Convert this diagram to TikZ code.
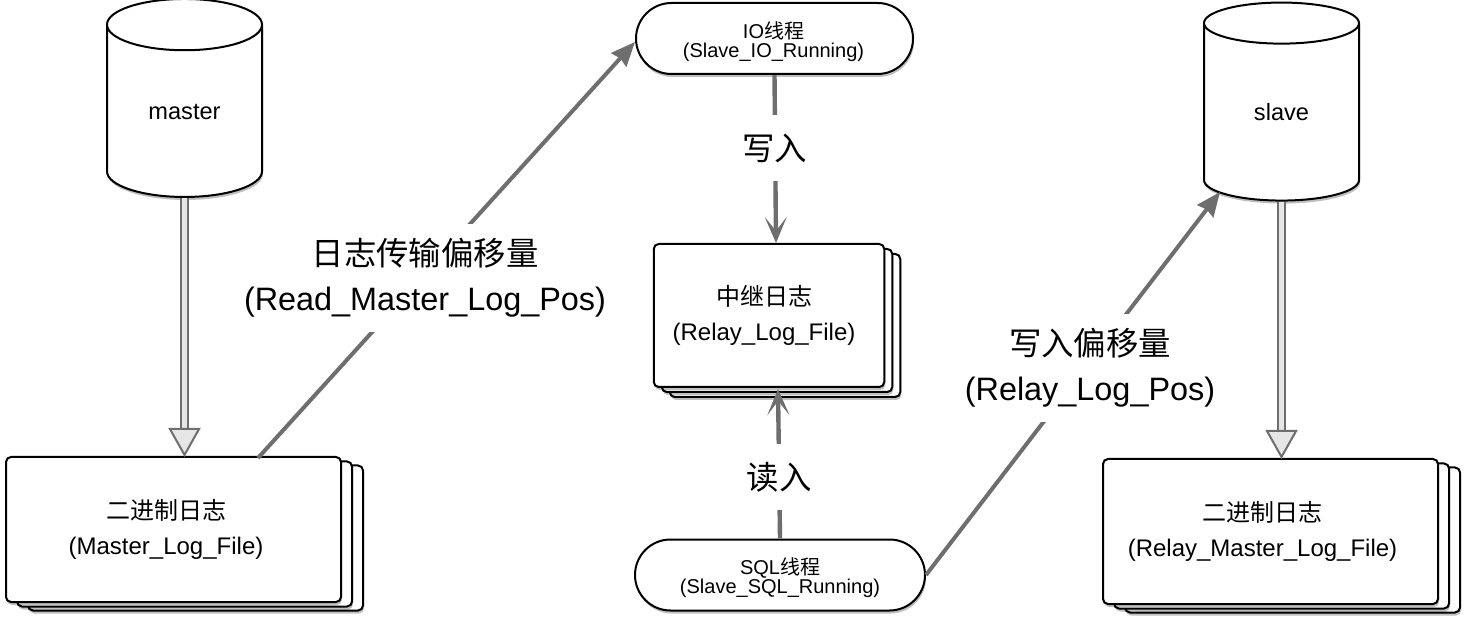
\documentclass[tikz,border=0pt]{standalone}
\usepackage{fontspec}
\setmainfont{Liberation Sans}
\newfontfamily\cjk{Noto Sans CJK SC}[BoldFont={Noto Sans CJK SC}]
\usetikzlibrary{positioning,shapes.geometric,shapes.misc,shadows,arrows.meta}
\newcommand{\zh}[1]{{\cjk #1}}
\definecolor{linkgray}{HTML}{6E6E6E}
\definecolor{hollowfill}{HTML}{E6E6E6}

\begin{document}
\begin{tikzpicture}[x=0.5pt,y=-0.5pt,
    softshadow/.style={drop shadow={shadow xshift=0.5pt,shadow yshift=-1.5pt,opacity=.25,fill=black}},
    dbnode/.style={cylinder,shape border rotate=90,draw,line width=1pt,fill=white,aspect=.6,minimum width=77.5pt,minimum height=99pt,softshadow,font=\fontsize{11.8}{14}\selectfont},
    threadnode/.style={rounded rectangle,draw,line width=1pt,fill=white,minimum height=35.5pt,softshadow,inner sep=0pt},
    threadlabel/.style={align=center,inner sep=0pt,font=\fontsize{10}{9.5}\selectfont},
    filenode/.style={rectangle,rounded corners=2.5pt,draw,line width=1pt,fill=white,softshadow,inner sep=0pt},
    filelabel/.style={align=center,inner sep=0pt,font=\fontsize{12}{17.5}\selectfont},
    linklabel/.style={fill=white,align=center,inner xsep=0pt,inner ysep=7pt,font=\fontsize{16.2}{22.5}\selectfont},
    link/.style={draw=linkgray,fill=linkgray,line width=2pt,-{Stealth[length=12pt,width=10pt,inset=1pt]}},
    barblink/.style={draw=linkgray,line width=2.2pt,-{Stealth[length=13pt,width=11pt,inset=7pt]}},
    hollowlink/.style={draw=linkgray,line width=1pt,double=hollowfill,double distance=2.8pt,-{Triangle[open,length=14.5pt,width=16pt,fill=hollowfill,line width=1pt]}}]

  \useasboundingbox (0,0) rectangle (1466,624);

  \node[dbnode] (master) at (184.5,116.5) {\raisebox{4.25pt}{master}};
  \node[dbnode] (slave) at (1281.5,116.5) {\raisebox{4.25pt}{slave}};

  \node[filenode,minimum width=167.5pt,minimum height=72.5pt] (masterfile3) at (195.5,538) {};
  \node[filenode,minimum width=167.5pt,minimum height=72.5pt] (masterfile2) at (184.5,534) {};
  \node[filenode,minimum width=167.5pt,minimum height=72.5pt] (masterfile) at (173.5,529.5) {};
  \node[filelabel] (masterfiletext) at (166,529) {\zh{二进制日志}\\(Master\_Log\_File)};

  \node[filenode,minimum width=115.25pt,minimum height=71.5pt] (relayfile3) at (785,325.5) {};
  \node[filenode,minimum width=115.25pt,minimum height=71.5pt] (relayfile2) at (777,320.5) {};
  \node[filenode,minimum width=115.25pt,minimum height=71.5pt] (relayfile) at (769,315.5) {};
  \node[filelabel] (relayfiletext) at (764,315) {\zh{中继日志}\\(Relay\_Log\_File)};

  \node[filenode,minimum width=167.5pt,minimum height=72.5pt] (slavefile3) at (1292.5,540) {};
  \node[filenode,minimum width=167.5pt,minimum height=72.5pt] (slavefile2) at (1281.5,536) {};
  \node[filenode,minimum width=167.5pt,minimum height=72.5pt] (slavefile) at (1270.5,531.5) {};
  \node[filelabel] (slavefiletext) at (1262.5,531) {\zh{二进制日志}\\(Relay\_Master\_Log\_File)};

  \node[threadnode,minimum width=138.5pt] (iothread) at (774.5,38.5) {};
  \node[threadlabel] (iothreadtext) at (773.5,42) {IO\zh{线程}\\(Slave\_IO\_Running)};
  \node[threadnode,minimum width=145pt] (sqlthread) at (780,575) {};
  \node[threadlabel] (sqlthreadtext) at (780,578) {SQL\zh{线程}\\(Slave\_SQL\_Running)};

  \coordinate (readstart) at (258,458);
  \coordinate (readend) at (635,42);
  \coordinate (posend) at (1220,192);
  \coordinate (relayin) at (776,243);
  \coordinate (relayout) at (778,389);
  \coordinate (masterin) at (184.5,457);
  \coordinate (slavein) at (1281.5,459);

  \draw[hollowlink] (master.south) -- (masterin);
  \draw[hollowlink] (slave.south) -- (slavein);
  \draw[link] (readstart) -- (readend);
  \draw[barblink] (iothread.south) -- (relayin);
  \draw[barblink] (sqlthread.north) -- (relayout);
  \draw[link] (sqlthread.east) -- (posend);

  \node[linklabel] (readlabel) at (425,278) {\zh{日志传输偏移量}\\(Read\_Master\_Log\_Pos)};
  \node[linklabel,inner ysep=0pt,minimum height=33pt,minimum width=40pt] (writelabel) at (774.5,148) {\zh{写入}};
  \node[linklabel,inner ysep=0pt,minimum height=33pt,minimum width=40pt] (loadlabel) at (779,477) {\zh{读入}};
  \node[linklabel] (poslabel) at (1090,368) {\zh{写入偏移量}\\(Relay\_Log\_Pos)};
\end{tikzpicture}
\end{document}
